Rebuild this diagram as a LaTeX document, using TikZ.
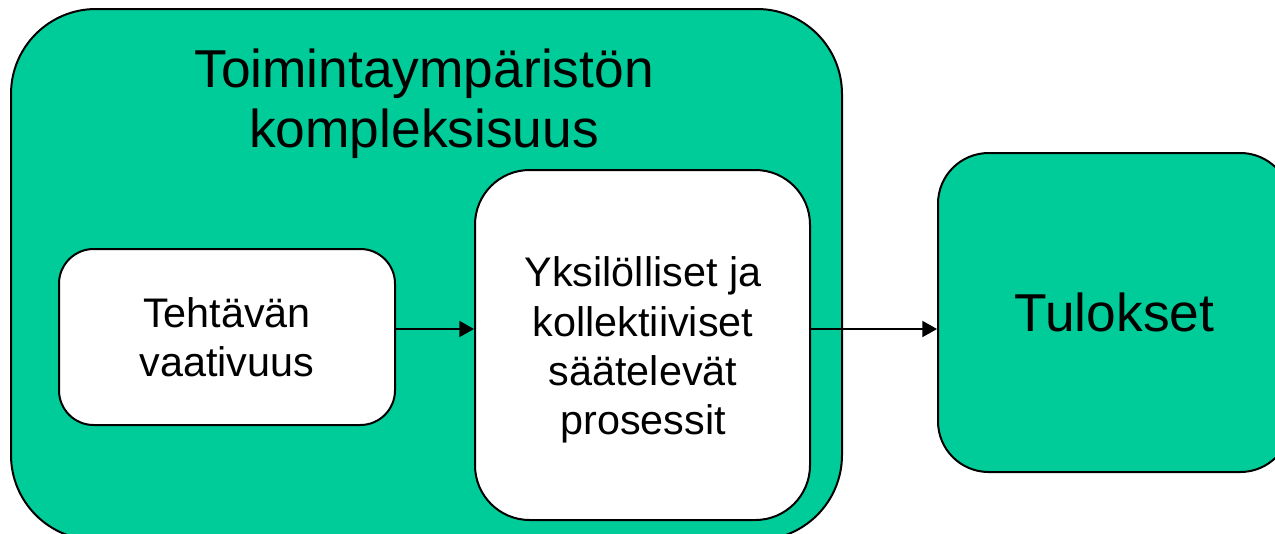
\documentclass[tikz,border=0pt]{standalone}
\usepackage{fontspec}
\setmainfont{Liberation Sans}
\usetikzlibrary{arrows.meta}
\definecolor{vihrea}{RGB}{0,204,153}
\begin{document}
\begin{tikzpicture}[x=0.75pt,y=-0.75pt,>={Triangle[length=11pt,width=12pt]},
        laatikko/.style={draw,line width=1.5pt,rounded corners=#1,inner sep=0pt,align=center},
        isoteksti/.style={font=\fontsize{40}{45}\selectfont},
        pieniteksti/.style={font=\fontsize{31}{37}\selectfont}]
                \useasboundingbox (0,0) rectangle (1275,533);
                \node[laatikko=63.75pt,fill=vihrea,minimum width=623.25pt,minimum height=398.25pt] (ymparisto) at (426.5,274.5) {};
                \node[isoteksti,align=center] (otsikko) at (424,104) {Toimintaympäristön\\kompleksisuus};
                \node[laatikko=26pt,fill=white,pieniteksti,minimum width=252pt,minimum height=132pt] (tehtava) at (227,337) {Tehtävän\\vaativuus};
                \node[laatikko=41pt,fill=white,pieniteksti,minimum width=251.25pt,minimum height=262.5pt] (prosessit) at (642.5,345) {};
                \node[pieniteksti,align=center] (prosessiteksti) at (643,350) {Yksilölliset ja\\kollektiiviset\\säätelevät\\prosessit};
                \node[laatikko=38pt,fill=vihrea,isoteksti,minimum width=264.75pt,minimum height=239.25pt] (tulokset) at (1114.5,312.5) {Tulokset};
                \coordinate (nuolirivi) at (0,329);
                \draw[->,line width=1.5pt] (tehtava.east |- nuolirivi) -- (prosessit.west |- nuolirivi);
                \draw[->,line width=1.5pt] (prosessit.east |- nuolirivi) -- (tulokset.west |- nuolirivi);
            \end{tikzpicture}
\end{document}
